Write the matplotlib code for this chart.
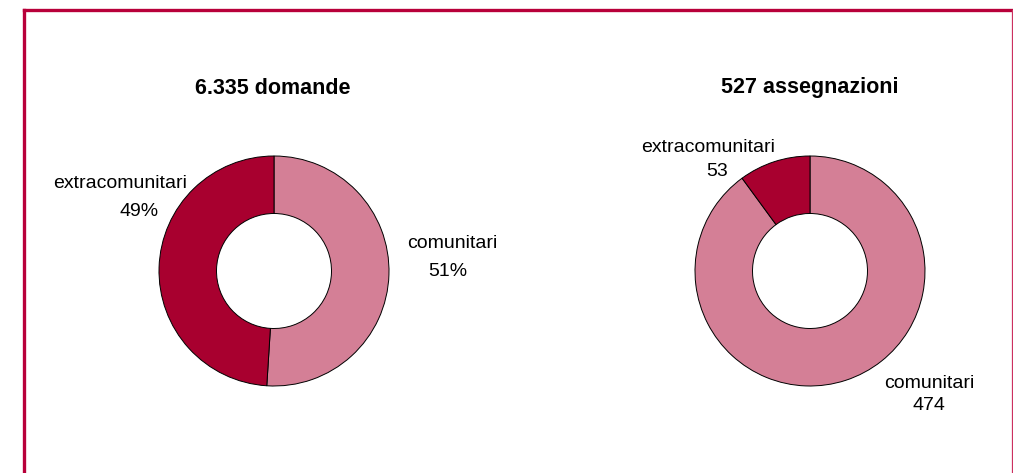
import matplotlib
matplotlib.use("Agg")
import matplotlib.pyplot as plt
from matplotlib.lines import Line2D

plt.rcParams['font.family'] = ['Liberation Sans', 'DejaVu Sans']

categories = ["comunitari", "extracomunitari"]
domande_pct = [51, 49]
assegnazioni = [474, 53]
titles = ["6.335 domande", "527 assegnazioni"]

colors = ["#d47f96", "#a8002f"]
W, H = 1013, 473
fig = plt.figure(figsize=(W / 100, H / 100), dpi=100)
fig.patch.set_facecolor("white")

def px_axes(cx, cy, r):
    return fig.add_axes([(cx - r) / W, 1 - (cy + r) / H, 2 * r / W, 2 * r / H])

R = 115
for (cx, cy), vals in zip([(274, 271), (810, 271)], [domande_pct, assegnazioni]):
    ax = px_axes(cx, cy, R)
    ax.pie(vals, colors=colors, startangle=90, counterclock=False, radius=1,
           wedgeprops=dict(width=0.5, edgecolor="black", linewidth=0.7))
    ax.set_xlim(-1, 1)
    ax.set_ylim(-1, 1)
    ax.set_aspect("equal")
    ax.axis("off")

def ftext(x, y, s, **kw):
    fig.text(x / W, 1 - y / H, s, ha="center", va="center", **kw)

fs = 14
tfs = 15.5
ftext(273, 88, titles[0], fontsize=tfs, fontweight="bold")
ftext(810, 88, titles[1], fontsize=tfs, fontweight="bold")

ftext(120, 183, categories[1], fontsize=fs)
ftext(139, 212, f"{domande_pct[1]}%", fontsize=fs)
ftext(452, 243, categories[0], fontsize=fs)
ftext(448, 271, f"{domande_pct[0]}%", fontsize=fs)

ftext(708, 148, categories[1], fontsize=fs)
ftext(717, 171, str(assegnazioni[1]), fontsize=fs)
ftext(929, 383, categories[0], fontsize=fs)
ftext(929, 406, str(assegnazioni[0]), fontsize=fs)

border = "#b8003a"
fig.add_artist(Line2D([23.5 / W, 23.5 / W], [0, 1 - 10 / H], color=border, lw=2.4))
fig.add_artist(Line2D([23.5 / W, 1012 / W], [1 - 10 / H, 1 - 10 / H], color=border, lw=2.4))
fig.add_artist(Line2D([1011.5 / W, 1011.5 / W], [0, 1 - 10 / H], color="#cc3060", lw=0.9))

fig.savefig("out.png", dpi=100)
